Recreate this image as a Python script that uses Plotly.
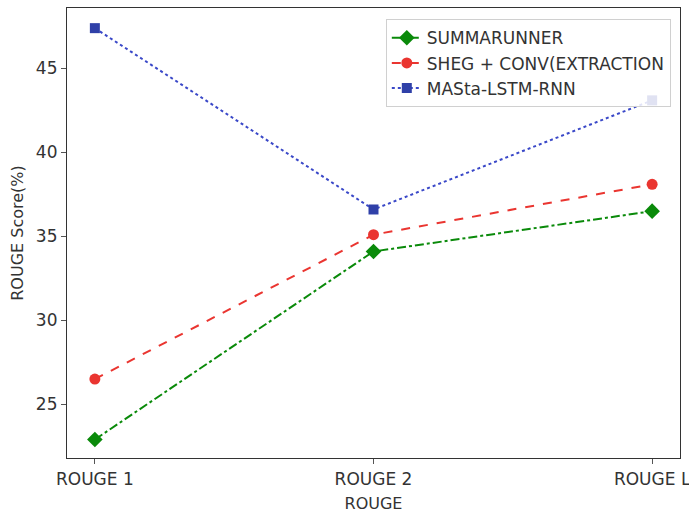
import plotly.graph_objects as go

categories = ["ROUGE 1", "ROUGE 2", "ROUGE L"]
summarunner = [22.9, 34.1, 36.5]
sheg_conv = [26.5, 35.1, 38.1]
masta_lstm = [47.4, 36.6, 43.1]
y_ticks = [25, 30, 35, 40, 45]

font_family = "DejaVu Sans"
text_color = "#333333"
x_pos = list(range(len(categories)))

fig = go.Figure()
fig.add_trace(go.Scatter(
    x=x_pos, y=summarunner, name="SUMMARUNNER", mode="lines+markers",
    line=dict(color="#0a8a0a", width=2, dash="dashdot"),
    marker=dict(symbol="diamond", size=12, color="#0a8a0a"),
))
fig.add_trace(go.Scatter(
    x=x_pos, y=sheg_conv, name="SHEG + CONV(EXTRACTION", mode="lines+markers",
    line=dict(color="#ea3530", width=2, dash="dash"),
    marker=dict(symbol="circle", size=11, color="#ea3530"),
))
fig.add_trace(go.Scatter(
    x=x_pos, y=masta_lstm, name="MASta-LSTM-RNN", mode="lines+markers",
    line=dict(color="#3a48c8", width=2, dash="dot"),
    marker=dict(symbol="square", size=10, color="#2f40a8"),
))

axis_common = dict(
    showline=True, linecolor="#333333", linewidth=1.2, mirror=True,
    ticks="outside", ticklen=5, tickcolor="#555555",
    showgrid=False, zeroline=False, automargin=False,
    ticklabeloverflow="allow",
    tickfont=dict(family=font_family, size=17, color=text_color),
)

fig.update_layout(
    width=689, height=516,
    margin=dict(l=67, r=9, t=8, b=58),
    paper_bgcolor="white", plot_bgcolor="white",
    font=dict(family=font_family, size=17, color=text_color),
    xaxis=dict(
        **axis_common,
        range=[-0.1, 2.1],
        tickvals=x_pos, ticktext=categories,
        title=dict(text="ROUGE", font=dict(size=16), standoff=10),
    ),
    yaxis=dict(
        **axis_common,
        range=[21.8, 48.6],
        tickvals=y_ticks,
        title=dict(text="ROUGE Score(%)", font=dict(size=16), standoff=8),
    ),
    legend=dict(
        x=0.985, y=0.975, xanchor="right", yanchor="top",
        bgcolor="rgba(255,255,255,0.85)", bordercolor="#d0d0d0", borderwidth=1,
        font=dict(family=font_family, size=17, color=text_color),
        tracegroupgap=0, itemwidth=30,
    ),
    showlegend=True,
)

fig.write_html("out.html")
